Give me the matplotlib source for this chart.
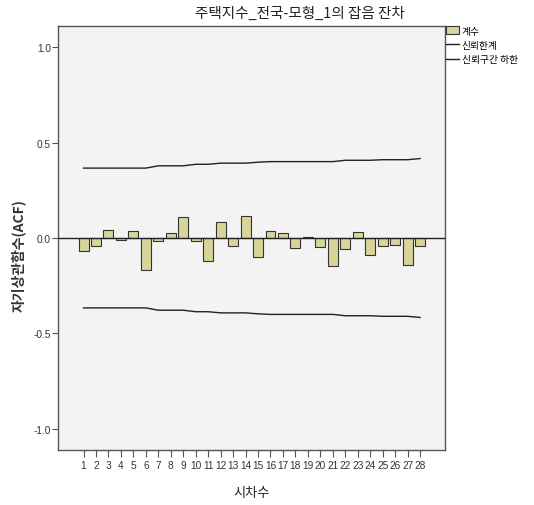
import matplotlib.pyplot as plt
import numpy as np

plt.rcParams['font.family'] = ['Noto Sans CJK KR', 'DejaVu Sans']

# residual ACF by lag
lags = list(range(1, 29))
acf = [-0.067, -0.040, 0.042, -0.009, 0.035, -0.168, -0.016, 0.026, 0.109, -0.018,
       -0.123, 0.083, -0.044, 0.117, -0.102, 0.035, 0.026, -0.053, 0.005, -0.049,
       -0.146, -0.058, 0.030, -0.088, -0.040, -0.037, -0.139, -0.040]
upper = [0.366, 0.366, 0.366, 0.366, 0.366, 0.366, 0.378, 0.378, 0.378, 0.386,
         0.386, 0.392, 0.392, 0.392, 0.397, 0.400, 0.400, 0.400, 0.400, 0.400,
         0.400, 0.407, 0.407, 0.407, 0.410, 0.410, 0.410, 0.416]
lower = [-u for u in upper]
yticks = [1.0, 0.5, 0.0, -0.5, -1.0]

fig = plt.figure(figsize=(5.34, 5.06), dpi=100)
ax = fig.add_axes([0.1086, 0.1087, 0.7247, 0.8379])
ax.set_facecolor('#f3f3f3')

bars = ax.bar(lags, acf, width=0.8, color='#d8d49a', edgecolor='#333333',
              linewidth=0.8, zorder=2, label='계수')
l1, = ax.plot(lags, upper, color='#222222', linewidth=1.0, label='신뢰한계')
l2, = ax.plot(lags, lower, color='#222222', linewidth=1.0, label='신뢰구간 하한')
ax.axhline(0, color='#222222', linewidth=1.0, zorder=3)

ax.set_xlim(-1.05, 30.0)
ax.set_ylim(-1.11, 1.11)
ax.set_xticks(lags)
ax.set_xticklabels([str(l) for l in lags], fontsize=7.3, family='Liberation Sans', color='#333333')
ax.set_yticks(yticks)
ax.set_yticklabels(['%.1f' % t for t in yticks], fontsize=7.3, family='Liberation Sans', color='#333333')
ax.tick_params(axis='x', direction='out', length=5, width=0.8, color='#555555', pad=2)
ax.tick_params(axis='y', direction='out', length=4, width=0.8, color='#555555', pad=1)
for s in ax.spines.values():
    s.set_color('#555555')
    s.set_linewidth(1.0)

ax.set_xlabel('시차수', fontsize=9.5, color='#222222', labelpad=12)
ax.set_ylabel('자기상관함수(ACF)', fontsize=10, fontweight='bold', color='#333333')
ax.yaxis.set_label_coords(-0.082, 0.46)
fig.text(0.562, 0.972, '주택지수_전국-모형_1의 잡음 잔차', fontsize=10.5, ha='center', va='center',
         color='#222222')

leg = fig.legend(handles=[bars, l1, l2], loc='upper left', bbox_to_anchor=(0.828, 0.955),
                 frameon=False, fontsize=7, handlelength=1.3, handleheight=0.9,
                 handletextpad=0.3, labelspacing=0.45, borderaxespad=0)

fig.savefig('out.png', dpi=100)
